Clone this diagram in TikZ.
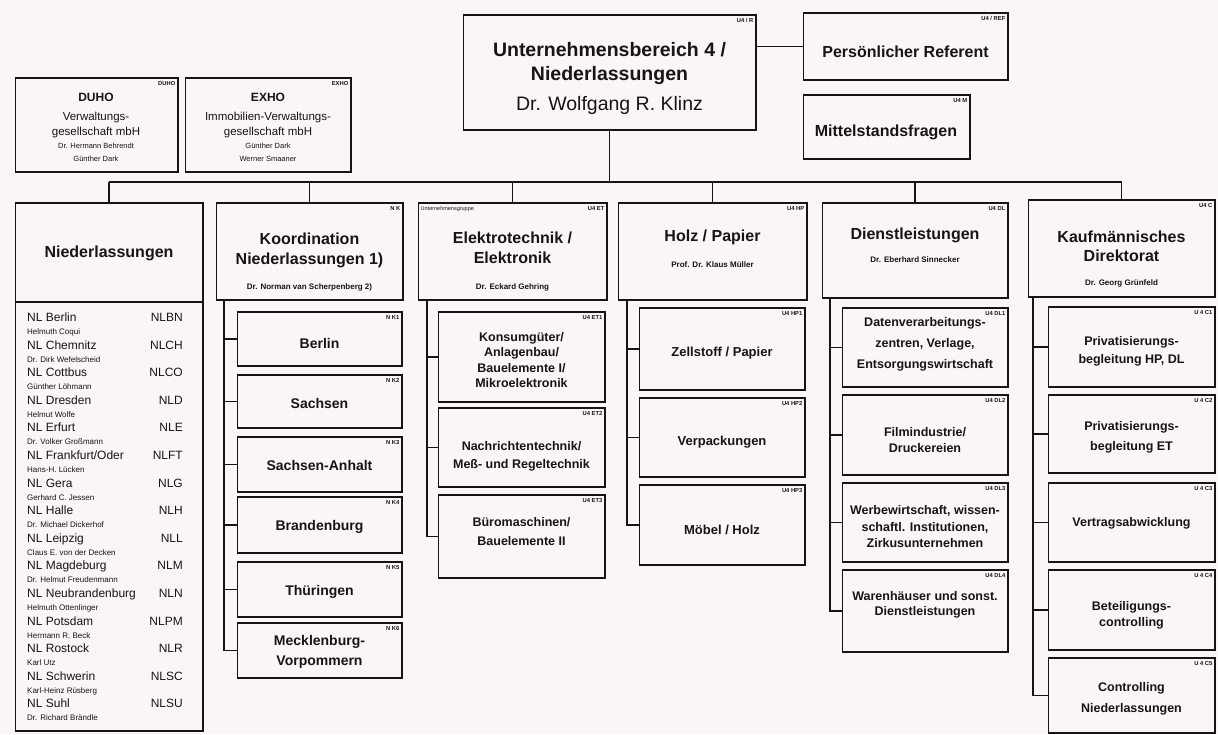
\documentclass[tikz,border=0pt]{standalone}
\usepackage{fontspec}
\setmainfont{Liberation Sans}
\definecolor{ink}{RGB}{24,20,20}
\definecolor{paper}{RGB}{250,246,246}
\tikzset{
  obox/.style={draw=ink, line width=1pt, inner sep=0pt, outer sep=0pt, rectangle},
  topedge/.style={draw=ink, line width=2.8pt, line join=miter},
  botedge/.style={draw=ink, line width=1.8pt},
  link/.style={draw=ink, line width=1.1pt},
  code/.style={anchor=north east, inner sep=0pt, text=ink, font=\fontsize{5.8}{6}\selectfont\bfseries},
  codel/.style={anchor=north west, inner sep=0pt, text=ink, font=\fontsize{5.5}{6}\selectfont},
  title/.style={inner sep=0pt, text=ink, font=\fontsize{19.5}{23}\selectfont\bfseries},
  titlereg/.style={inner sep=0pt, text=ink, font=\fontsize{19.5}{23}\selectfont},
  head/.style={inner sep=0pt, text=ink, font=\fontsize{16}{20}\selectfont\bfseries},
  person/.style={inner sep=0pt, text=ink, font=\fontsize{8}{9}\selectfont\bfseries},
  shead/.style={inner sep=0pt, text=ink, font=\fontsize{12}{14}\selectfont\bfseries},
  stext/.style={inner sep=0pt, text=ink, font=\fontsize{11.5}{14}\selectfont},
  stiny/.style={inner sep=0pt, text=ink, font=\fontsize{7.5}{9}\selectfont},
  sub/.style={inner sep=0pt, text=ink, align=center, font=\fontsize{13}{#1}\selectfont\bfseries},
  sub/.default=17,
  subk/.style={inner sep=0pt, text=ink, align=center, font=\fontsize{14}{#1}\selectfont\bfseries},
  subk/.default=20,
  subs/.style={inner sep=0pt, text=ink, align=center, font=\fontsize{12.5}{#1}\selectfont\bfseries},
  subs/.default=16,
  nlentry/.style={anchor=base west, inner sep=0pt, text=ink, font=\fontsize{12}{13}\selectfont},
  nlcode/.style={anchor=base east, inner sep=0pt, text=ink, font=\fontsize{12}{13}\selectfont},
  nlperson/.style={anchor=base west, inner sep=0pt, text=ink, font=\fontsize{8}{9}\selectfont},
}
\newcommand\orgbox[6]{%
  \node[obox, minimum width={(#4)-(#2)}, minimum height={(#5)-(#3)}] (#1) at ({((#2)+(#4))/2},{((#3)+(#5))/2}) {};
  \draw[topedge] (#1.north west) -- (#1.north east) -- (#1.south east);
  \draw[botedge] (#1.south west) -- (#1.south east);
  \node[code] (#1c) at ([xshift=-2.5pt,yshift=-3pt]#1.north east) {#6};
}
\begin{document}
\begin{tikzpicture}[x=1pt,y=-1pt]
\fill[paper] (0,0) rectangle (1218,734);
\useasboundingbox (0,0) rectangle (1218,734);

% top level
\orgbox{u4}{463}{15}{756}{130}{U4 / R}
\node[title] (u4a) at (609.5,50) {Unternehmensbereich 4 /};
\node[title] (u4b) at (609.5,75) {Niederlassungen};
\node[titlereg] (u4n) at (609.5,105) {Dr. Wolfgang R. Klinz};

\orgbox{ref}{803}{13}{1008}{80}{U4 / REF}
\node[head] (reft) at (905.5,52) {Persönlicher Referent};
\orgbox{mit}{803}{95}{970}{159}{U4 M}
\node[head] (mitt) at (886,132) {Mittelstandsfragen};

\orgbox{duho}{15}{78}{178}{172}{DUHO}
\node[shead] (duhoa) at (96,97) {DUHO};
\node[stext] (duhob) at (96,118) {Verwaltungs-};
\node[stext] (duhoc) at (96,133) {gesellschaft mbH};
\node[stiny] (duhod) at (96,146) {Dr. Hermann Behrendt};
\node[stiny] (duhoe) at (96,159) {Günther Dark};

\orgbox{exho}{185}{78}{351}{172}{EXHO}
\node[shead] (exhoa) at (268,97) {EXHO};
\node[stext] (exhob) at (268,118) {Immobilien-Verwaltungs-};
\node[stext] (exhoc) at (268,133) {gesellschaft mbH};
\node[stiny] (exhod) at (268,146) {Günther Dark};
\node[stiny] (exhoe) at (268,159) {Werner Smaaner};

% second level
\orgbox{nl}{15}{203}{203}{731}{}
\node[head] (nlt) at (109,253) {Niederlassungen};
\coordinate (nlsep) at (15,302);
\draw[ink, line width=1.5pt] (nlsep) -- (nlsep -| nl.east);
\foreach \n/\c/\p [count=\i from 0] in {
  NL Berlin/NLBN/Helmuth Coqui,
  NL Chemnitz/NLCH/Dr. Dirk Wefelscheid,
  NL Cottbus/NLCO/Günther Löhmann,
  NL Dresden/NLD/Helmut Wolfe,
  NL Erfurt/NLE/Dr. Volker Großmann,
  {NL Frankfurt/Oder}/NLFT/Hans-H. Lücken,
  NL Gera/NLG/Gerhard C. Jessen,
  NL Halle/NLH/Dr. Michael Dickerhof,
  NL Leipzig/NLL/Claus E. von der Decken,
  NL Magdeburg/NLM/Dr. Helmut Freudenmann,
  NL Neubrandenburg/NLN/Helmuth Ottenlinger,
  NL Potsdam/NLPM/Hermann R. Beck,
  NL Rostock/NLR/Karl Utz,
  NL Schwerin/NLSC/Karl-Heinz Rüsberg,
  NL Suhl/NLSU/Dr. Richard Brändle}{
  \pgfmathsetmacro\yy{321.5+27.6*\i}
  \pgfmathsetmacro\yp{334.5+27.6*\i}
  \node[nlentry] (nle\i) at (27,\yy) {\n};
  \node[nlcode] (nlc\i) at (183,\yy) {\c};
  \node[nlperson] (nlp\i) at (27,\yp) {\p};
}

\orgbox{kc}{216}{203}{403}{300}{N K}
\node[head] (kct1) at (309.5,239) {Koordination};
\node[head] (kct2) at (309.5,260) {Niederlassungen 1)};
\node[person] (kcp) at (309.5,287) {Dr. Norman van Scherpenberg 2)};

\orgbox{et}{418}{203}{607}{300}{U4 ET}
\node[codel] (etg) at ([xshift=2.5pt,yshift=-3pt]et.north west) {Unternehmensgruppe};
\node[head] (ett1) at (512.5,238) {Elektrotechnik /};
\node[head] (ett2) at (512.5,258) {Elektronik};
\node[person] (etp) at (512.5,287) {Dr. Eckard Gehring};

\orgbox{hp}{618}{203}{807}{300}{U4 HP}
\node[head] (hpt) at (712.5,237) {Holz / Papier};
\node[person] (hpp) at (712.5,265) {Prof. Dr. Klaus Müller};

\orgbox{dl}{822}{203}{1008}{298}{U4 DL}
\node[head] (dlt) at (915,235) {Dienstleistungen};
\node[person] (dlp) at (915,260) {Dr. Eberhard Sinnecker};

\orgbox{kd}{1028}{200}{1215}{297}{U4 C}
\node[head] (kdt1) at (1121.5,237) {Kaufmännisches};
\node[head] (kdt2) at (1121.5,256) {Direktorat};
\node[person] (kdp) at (1121.5,283) {Dr. Georg Grünfeld};

% Koordination subs
\orgbox{k1}{237}{312}{402}{366}{N K1}
\node[subk] (k1t) at (k1.center |- 0,343) {Berlin};
\orgbox{k2}{237}{375}{402}{428}{N K2}
\node[subk] (k2t) at (k2.center |- 0,403) {Sachsen};
\orgbox{k3}{237}{437}{402}{492}{N K3}
\node[subk] (k3t) at (k3.center |- 0,465) {Sachsen-Anhalt};
\orgbox{k4}{237}{497}{402}{553}{N K4}
\node[subk] (k4t) at (k4.center |- 0,527) {Brandenburg};
\orgbox{k5}{237}{562}{402}{617}{N K5}
\node[subk] (k5t) at (k5.center |- 0,592) {Thüringen};
\orgbox{k6}{237}{623}{402}{678}{N K6}
\node[subk] (k6t) at (k6.center |- 0,652) {Mecklenburg-\\Vorpommern};

% ET subs
\orgbox{e1}{438}{312}{605}{402}{U4 ET1}
\node[subs=15.5] (e1t) at (e1.center |- 0,360) {Konsumgüter/\\Anlagenbau/\\Bauelemente I/\\Mikroelektronik};
\orgbox{e2}{438}{408}{605}{487}{U4 ET2}
\node[subs=18] (e2t) at (e2.center |- 0,456) {Nachrichtentechnik/\\Meß- und Regeltechnik};
\orgbox{e3}{438}{495}{605}{578}{U4 ET3}
\node[subs=19] (e3t) at (e3.center |- 0,532) {Büromaschinen/\\Bauelemente II};

% HP subs
\orgbox{h1}{639}{308}{805}{390}{U4 HP1}
\node[sub] (h1t) at (h1.center |- 0,353) {Zellstoff / Papier};
\orgbox{h2}{639}{398}{805}{477}{U4 HP2}
\node[sub] (h2t) at (h2.center |- 0,442) {Verpackungen};
\orgbox{h3}{639}{485}{805}{565}{U4 HP3}
\node[sub] (h3t) at (h3.center |- 0,530) {Möbel / Holz};

% DL subs
\orgbox{d1}{842}{308}{1008}{387}{U4 DL1}
\node[subs=21] (d1t) at (d1.center |- 0,344) {Datenverarbeitungs-\\zentren, Verlage,\\Entsorgungswirtschaft};
\orgbox{d2}{842}{395}{1008}{475}{U4 DL2}
\node[subs=16.5] (d2t) at (d2.center |- 0,440) {Filmindustrie/\\Druckereien};
\orgbox{d3}{842}{483}{1008}{562}{U4 DL3}
\node[subs=16.5] (d3t) at (d3.center |- 0,527) {Werbewirtschaft, wissen-\\schaftl. Institutionen,\\Zirkusunternehmen};
\orgbox{d4}{842}{570}{1008}{652}{U4 DL4}
\node[subs=15.5] (d4t) at (d4.center |- 0,605) {Warenhäuser und sonst.\\Dienstleistungen};

% C subs
\orgbox{c1}{1048}{307}{1215}{387}{U 4 C1}
\node[subs=18] (c1t) at (c1.center |- 0,351) {Privatisierungs-\\begleitung HP, DL};
\orgbox{c2}{1048}{395}{1215}{473}{U 4 C2}
\node[subs=20] (c2t) at (c2.center |- 0,437) {Privatisierungs-\\begleitung ET};
\orgbox{c3}{1048}{483}{1215}{562}{U 4 C3}
\node[subs] (c3t) at (c3.center |- 0,523) {Vertragsabwicklung};
\orgbox{c4}{1048}{570}{1215}{650}{U 4 C4}
\node[subs=16] (c4t) at (c4.center |- 0,615) {Beteiligungs-\\controlling};
\orgbox{c5}{1048}{658}{1215}{733}{U 4 C5}
\node[subs=21] (c5t) at (c5.center |- 0,698.5) {Controlling\\Niederlassungen};

% connectors
\coordinate (bus) at (0,182);
\draw[link] (ref.west -| u4.east) -- (ref.west);
\draw[link] (u4.south) -- (u4.south |- bus);
\draw[link] (nl.north |- bus) -- (kd.north |- bus);
\foreach \b in {nl,kc,et,hp,dl,kd} \draw[link] (\b.north |- bus) -- (\b.north);

\coordinate (kcs) at ([xshift=8pt]kc.south west);
\draw[link] (kcs) |- (k6.west);
\foreach \c in {k1,k2,k3,k4,k5} \draw[link] (\c.west -| kcs) -- (\c.west);

\coordinate (ets) at ([xshift=9pt]et.south west);
\draw[link] (ets) |- (e3.west);
\foreach \c in {e1,e2} \draw[link] (\c.west -| ets) -- (\c.west);

\coordinate (hps) at ([xshift=9pt]hp.south west);
\draw[link] (hps) |- (h3.west);
\foreach \c in {h1,h2} \draw[link] (\c.west -| hps) -- (\c.west);

\coordinate (dls) at ([xshift=8pt]dl.south west);
\draw[link] (dls) |- (d4.west);
\foreach \c in {d1,d2,d3} \draw[link] (\c.west -| dls) -- (\c.west);

\coordinate (kds) at ([xshift=5pt]kd.south west);
\draw[link] (kds) |- (c5.west);
\foreach \c in {c1,c2,c3,c4} \draw[link] (\c.west -| kds) -- (\c.west);
\end{tikzpicture}
\end{document}
